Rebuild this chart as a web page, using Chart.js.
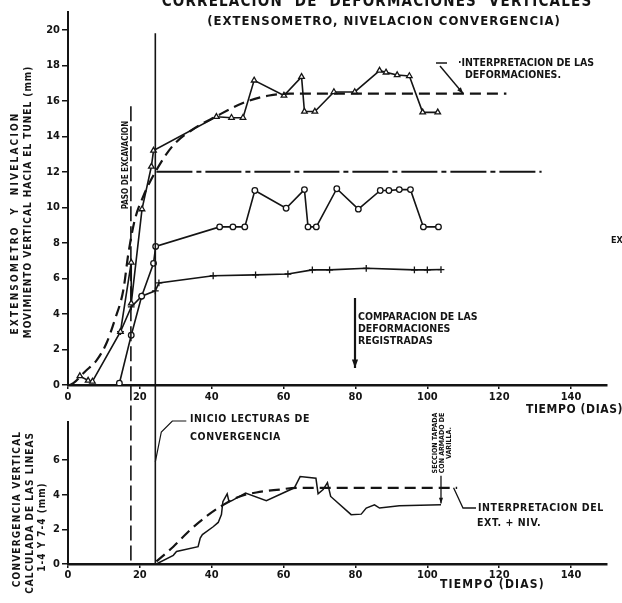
<!DOCTYPE html>
<html>
<head>
<meta charset="utf-8">
<script src="https://cdn.jsdelivr.net/npm/chart.js@4.4.0/dist/chart.umd.min.js"></script>
<style>
  html, body { margin: 0; padding: 0; background: #fff; width: 622px; height: 603px; overflow: hidden; }
  canvas { position: absolute; left: 0; top: 0; }
</style>
</head>
<body>
<canvas id="upper" width="622" height="603"></canvas>
<canvas id="lower" width="622" height="603"></canvas>
<script>
// ---- time axis (days), shared by both panels ----
const dayTicks = [0, 20, 40, 60, 80, 100, 120, 140];
const upperTicks = [0, 2, 4, 6, 8, 10, 12, 14, 16, 18, 20];
const lowerTicks = [0, 2, 4, 6];

// excavation step and start of convergence readings (days)
const excavationDay = 17.5;
const faceDay = 24.3;

// ---- upper panel: vertical movement towards the tunnel (mm) ----
const triDays = [3.3, 5.6, 6.8, 14.6, 17.6, 17.6, 20.6, 23.2, 23.8, 41.3, 45.5, 48.7, 51.8, 60.1, 65.0, 65.8, 68.7, 74.0, 79.8, 86.7, 88.5, 91.6, 95.0, 98.7, 102.9];
const triMm   = [0.5, 0.25, 0.2, 3.0, 6.9, 4.6, 9.9, 12.3, 13.2, 15.1, 15.05, 15.05, 17.15, 16.3, 17.35, 15.4, 15.4, 16.5, 16.5, 17.7, 17.6, 17.45, 17.4, 15.35, 15.35];

const circDays = [14.3, 17.6, 20.5, 23.8, 24.4, 42.2, 45.9, 49.2, 52.0, 60.7, 65.8, 66.8, 69.1, 74.8, 80.8, 86.9, 89.3, 92.2, 95.3, 98.9, 103.1];
const circMm   = [0.1, 2.8, 5.0, 6.85, 7.8, 8.9, 8.9, 8.9, 10.95, 9.95, 11.0, 8.9, 8.9, 11.05, 9.9, 10.95, 10.95, 11.0, 11.0, 8.9, 8.9];

const plusDays = [14.6, 17.6, 20.5, 24.3, 25.3, 40.4, 52.2, 61.2, 68.0, 72.8, 83.0, 96.4, 100.0, 103.8];
const plusMm   = [3.0, 4.4, 5.0, 5.3, 5.75, 6.15, 6.2, 6.25, 6.48, 6.48, 6.57, 6.48, 6.48, 6.5];

// interpretation of the deformations (dashed curve)
const fitDays = [0.5, 1.5, 4.7, 8.0, 10.7, 13.0, 15.4, 16.8, 18.6, 20.9, 24.6, 29.3, 34.8, 41.0, 49.6, 56.0, 62.0, 122.0];
const fitMm   = [0.0, 0.1, 0.75, 1.4, 2.35, 3.66, 5.35, 7.4, 9.3, 10.6, 12.1, 13.5, 14.4, 15.1, 15.95, 16.3, 16.4, 16.4];

// reference level at 12 mm
const refDays = [24.6, 131.8];
const refMm   = [12, 12];

// extent of the two vertical markers in the upper panel (mm)
const faceTopMm = 19.8;
const excavationTopMm = 15.7;

// ---- lower panel: vertical convergence from lines 1-4 and 7-4 (mm) ----
const convDays = [24.6, 29.3, 30.2, 36.2, 36.8, 37.4, 40.4, 41.8, 42.7, 43.1, 44.3, 44.8, 45.5, 49.4, 55.2, 63.0, 64.6, 69.0, 69.6, 71.0, 72.2, 73.1, 78.8, 81.6, 83.0, 85.3, 86.7, 92.2, 103.8];
const convMm   = [0.0, 0.5, 0.72, 1.0, 1.5, 1.7, 2.15, 2.4, 2.85, 3.6, 4.05, 3.6, 3.65, 4.1, 3.65, 4.4, 5.05, 4.95, 4.05, 4.3, 4.7, 3.9, 2.85, 2.88, 3.23, 3.42, 3.23, 3.36, 3.42];

const convFitDays = [24.6, 29.3, 33.9, 38.5, 43.1, 47.8, 52.4, 58.9, 63.5, 108.3];
const convFitMm   = [0.15, 1.0, 1.95, 2.75, 3.4, 3.9, 4.13, 4.3, 4.4, 4.4];

// covered section marker (day) and its span (mm)
const coverDay = 103.8;
const coverSpan = [5.1, 3.5];

// lower-panel value at which the vertical markers meet the upper axis
const lowerReachMm = 10.35;

// ---------------------------------------------------------------
const FONT = "'DejaVu Sans Condensed', 'Liberation Sans Narrow', 'DejaVu Sans', sans-serif";
const ink = '#141414';
Chart.defaults.font.family = FONT;
Chart.defaults.color = ink;
Chart.defaults.animation = false;

const pts = (xs, ys) => xs.map((x, i) => ({ x, y: ys[i] }));
const keepTicks = list => scale => { scale.ticks = list.map(v => ({ value: v })); };

function timeAxis(height, pad) {
  return {
    type: 'linear', min: 0, max: 150,
    afterBuildTicks: keepTicks(dayTicks),
    afterFit: s => { s.height = height; },
    ticks: { font: { size: 11, weight: 'bold' }, color: ink, padding: pad, maxRotation: 0, autoSkip: false },
    grid: { drawOnChartArea: false, drawTicks: true, tickLength: 4, color: ink, lineWidth: 1.5 },
    border: { color: ink, width: 2.5 }
  };
}
function valueAxis(max, list) {
  return {
    type: 'linear', min: 0, max,
    afterBuildTicks: keepTicks(list),
    afterFit: s => { s.width = 68; },
    ticks: { font: { size: 11, weight: 'bold' }, color: ink, padding: 2 },
    grid: { drawOnChartArea: false, drawTicks: true, tickLength: 6, color: ink, lineWidth: 1.5 },
    border: { color: ink, width: 2 }
  };
}
function readings(data, style, radius) {
  return { data, borderColor: ink, borderWidth: 1.6, pointStyle: style, pointRadius: radius,
           pointBackgroundColor: '#fff', pointBorderColor: ink, pointBorderWidth: 1.3, tension: 0 };
}
function trace(data, dash, width, extra) {
  return Object.assign({ data, borderColor: ink, borderWidth: width, borderDash: dash, pointRadius: 0, tension: 0 }, extra || {});
}

function text(c, str, x, y, size, o) {
  o = o || {};
  c.save();
  c.font = `bold ${size}px ${FONT}`;
  c.fillStyle = ink;
  c.letterSpacing = (o.ls || 0) + 'px';
  c.textAlign = o.align || 'left';
  c.textBaseline = 'middle';
  c.translate(x, y);
  if (o.rot) c.rotate(o.rot);
  c.fillText(str, 0, 0);
  c.restore();
}
function arrow(c, x1, y1, x2, y2, head, w) {
  c.save();
  c.strokeStyle = ink; c.fillStyle = ink; c.lineWidth = w || 1.5;
  c.beginPath(); c.moveTo(x1, y1); c.lineTo(x2, y2); c.stroke();
  const a = Math.atan2(y2 - y1, x2 - x1), h = head || 7;
  c.beginPath();
  c.moveTo(x2, y2);
  c.lineTo(x2 - h * Math.cos(a - 0.35), y2 - h * Math.sin(a - 0.35));
  c.lineTo(x2 - h * Math.cos(a + 0.35), y2 - h * Math.sin(a + 0.35));
  c.closePath(); c.fill();
  c.restore();
}
function polyline(c, list, w) {
  c.save(); c.strokeStyle = ink; c.lineWidth = w || 1.3;
  c.beginPath(); list.forEach((p, i) => i ? c.lineTo(p[0], p[1]) : c.moveTo(p[0], p[1])); c.stroke();
  c.restore();
}
const UP = -Math.PI / 2;

// ---- labels of the upper panel ----
const upperNotes = {
  id: 'upperNotes',
  afterDraw(chart) {
    const c = chart.ctx, xs = chart.scales.x, ys = chart.scales.y;
    text(c, 'CORRELACION  DE  DEFORMACIONES  VERTICALES', 377, 2, 15, { align: 'center', ls: 1.2 });
    text(c, '(EXTENSOMETRO, NIVELACION CONVERGENCIA)', 384, 22, 13, { align: 'center', ls: 1 });

    text(c, 'EXTENSOMETRO  Y  NIVELACION', 15, 223, 10, { align: 'center', rot: UP, ls: 2.2 });
    text(c, 'MOVIMIENTO VERTICAL HACIA EL TUNEL (mm)', 28, 202, 10, { align: 'center', rot: UP, ls: 1 });

    text(c, 'PASO DE EXCAVACION', 126, 165, 8, { align: 'center', rot: UP });

    text(c, '·INTERPRETACION DE LAS', 458, 63, 10.5);
    text(c, 'DEFORMACIONES.', 465, 75, 10.5);
    polyline(c, [[436, 63], [447, 63]], 1.5);
    arrow(c, 440, 66, xs.getPixelForValue(110), ys.getPixelForValue(16.4), 7, 1.4);

    text(c, 'COMPARACION DE LAS', 358, 317, 10.5);
    text(c, 'DEFORMACIONES', 358, 329, 10.5);
    text(c, 'REGISTRADAS', 358, 341, 10.5);
    arrow(c, 355, 298, 355, 368, 9, 2.2);

    text(c, 'EX', 611, 241, 9);
    text(c, 'TIEMPO (DIAS)', 526, 410, 12, { ls: 0.6 });
  }
};

// ---- labels of the lower panel ----
const lowerNotes = {
  id: 'lowerNotes',
  afterDraw(chart) {
    const c = chart.ctx, xs = chart.scales.x, ys = chart.scales.y;
    text(c, 'CONVERGENCIA VERTICAL', 17, 509, 10, { align: 'center', rot: UP, ls: 1.2 });
    text(c, 'CALCULADA DE LAS LINEAS', 30, 513, 10, { align: 'center', rot: UP, ls: 1 });
    text(c, '1-4 Y 7-4 (mm)', 42, 527, 10, { align: 'center', rot: UP, ls: 1 });

    const fx = xs.getPixelForValue(faceDay);
    polyline(c, [[fx, ys.getPixelForValue(5.9)], [fx + 6, 432], [fx + 17, 421], [fx + 31, 421]], 1.2);
    text(c, 'INICIO LECTURAS DE', 190, 419, 10.5, { ls: 0.6 });
    text(c, 'CONVERGENCIA', 190, 437, 10.5, { ls: 0.6 });

    const cx = xs.getPixelForValue(coverDay);
    arrow(c, cx, ys.getPixelForValue(coverSpan[0]), cx, ys.getPixelForValue(coverSpan[1]), 6, 1.3);
    text(c, 'SECCION TAPADA', 435, 443, 7, { align: 'center', rot: UP });
    text(c, 'CON ARMADO DE', 442, 443, 7, { align: 'center', rot: UP });
    text(c, 'VARILLA.', 449, 443, 7, { align: 'center', rot: UP });

    const ex = xs.getPixelForValue(107.3), ey = ys.getPixelForValue(4.4);
    polyline(c, [[ex, ey], [463, 508], [476, 508]], 1.3);
    text(c, 'INTERPRETACION DEL', 478, 508, 10.5, { ls: 0.6 });
    text(c, 'EXT. + NIV.', 477, 523, 10.5, { ls: 0.6 });

    text(c, 'TIEMPO (DIAS)', 440, 585, 12, { ls: 1.2 });
  }
};

new Chart(document.getElementById('upper'), {
  type: 'line',
  data: {
    datasets: [
      trace(pts([faceDay, faceDay], [faceTopMm, 0]), [], 1.6),
      trace(pts([excavationDay, excavationDay], [excavationTopMm, 0]), [15, 5], 1.6),
      trace(pts(fitDays, fitMm), [11, 6], 2.2, { cubicInterpolationMode: 'monotone' }),
      trace(pts(refDays, refMm), [36, 4, 5, 4], 2),
      readings(pts(triDays, triMm), 'triangle', 3.2),
      readings(pts(circDays, circMm), 'circle', 2.8),
      readings(pts(plusDays, plusMm), 'cross', 3.4)
    ]
  },
  options: {
    responsive: false, animation: false, devicePixelRatio: 1,
    layout: { padding: { top: 12, right: 15, left: 0, bottom: 0 } },
    plugins: { legend: { display: false }, tooltip: { enabled: false } },
    scales: { x: timeAxis(218, 2), y: valueAxis(21, upperTicks) }
  },
  plugins: [upperNotes]
});

new Chart(document.getElementById('lower'), {
  type: 'line',
  data: {
    datasets: [
      trace(pts([faceDay, faceDay], [0, lowerReachMm]), [], 1.6, { clip: false }),
      trace(pts([excavationDay, excavationDay], [0.2, lowerReachMm]), [15, 5], 1.6, { clip: false }),
      trace(pts(convFitDays, convFitMm), [11, 6], 2.2, { cubicInterpolationMode: 'monotone' }),
      trace(pts(convDays, convMm), [], 1.5)
    ]
  },
  options: {
    responsive: false, animation: false, devicePixelRatio: 1,
    layout: { padding: { top: 422, right: 15, left: 0, bottom: 0 } },
    plugins: { legend: { display: false }, tooltip: { enabled: false } },
    scales: { x: timeAxis(39, 1), y: valueAxis(8.2, lowerTicks) }
  },
  plugins: [lowerNotes]
});
</script>
</body>
</html>
